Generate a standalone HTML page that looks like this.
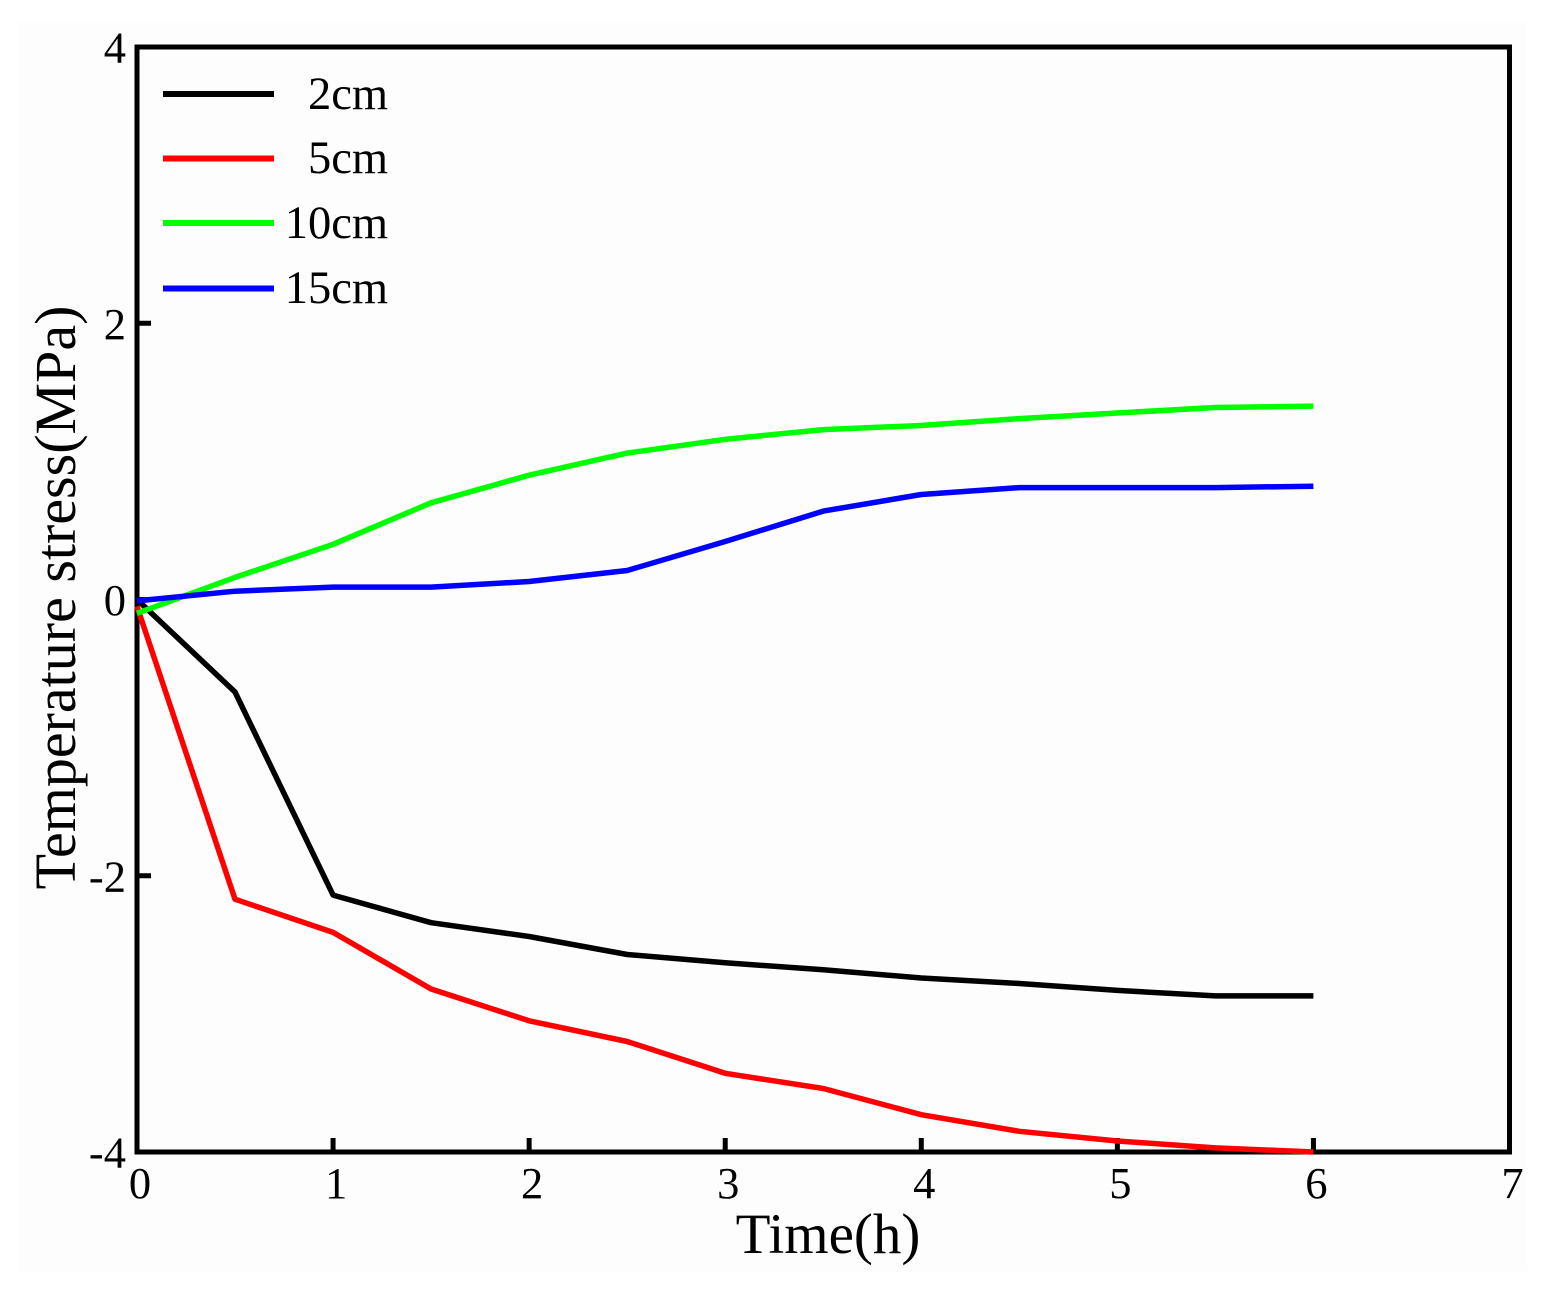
<!DOCTYPE html>
<html>
<head>
<meta charset="utf-8">
<title>Temperature stress over time</title>
<style>
  html, body { margin: 0; padding: 0; background: #fff; width: 1557px; height: 1291px; overflow: hidden; }
  svg { display: block; }
  text { font-family: "Liberation Serif", "Times New Roman", serif; fill: #000; }
</style>
</head>
<body>
<svg id="chart" xmlns="http://www.w3.org/2000/svg" width="1557" height="1291" viewBox="0 0 1557 1291">
  <rect x="18" y="22" width="1509" height="1249" fill="#fdfdfd"/>
  <g id="ticks"></g>
  <g id="tick-labels"></g>
  <rect x="137" y="47" width="1372.5" height="1105" fill="none" stroke="#000" stroke-width="5"/>
  <g id="series"></g>
  <g>
    <g>
      <line x1="163" x2="274" y1="94" y2="94" stroke="#000" stroke-width="6"/>
      <text x="388" y="109" font-size="46.5" text-anchor="end">2cm</text>
    </g>
    <g>
      <line x1="163" x2="274" y1="158.5" y2="158.5" stroke="#ff0000" stroke-width="6"/>
      <text x="388" y="173" font-size="46.5" text-anchor="end">5cm</text>
    </g>
    <g>
      <line x1="163" x2="274" y1="223" y2="223" stroke="#00ff00" stroke-width="6"/>
      <text x="388" y="238" font-size="46.5" text-anchor="end">10cm</text>
    </g>
    <g>
      <line x1="163" x2="274" y1="288.5" y2="288.5" stroke="#0000ff" stroke-width="6"/>
      <text x="388" y="303" font-size="46.5" text-anchor="end">15cm</text>
    </g>
  </g>
  <text x="828" y="1253" font-size="57" text-anchor="middle">Time(h)</text>
  <text x="75" y="597.5" font-size="58" text-anchor="middle" transform="rotate(-90 75 597.5)">Temperature stress(MPa)</text>
</svg>
<script>
const times = [0, 0.5, 1, 1.5, 2, 2.5, 3, 3.5, 4, 4.5, 5, 5.5, 6];
const stress2cm = [0, -0.67, -2.14, -2.34, -2.44, -2.57, -2.63, -2.68, -2.74, -2.78, -2.83, -2.87, -2.87];
const stress5cm = [-0.05, -2.17, -2.41, -2.82, -3.05, -3.2, -3.43, -3.54, -3.73, -3.85, -3.92, -3.97, -4.0];
const stress10cm = [-0.1, 0.16, 0.4, 0.7, 0.9, 1.06, 1.16, 1.23, 1.26, 1.31, 1.35, 1.39, 1.4];
const stress15cm = [-0.01, 0.06, 0.09, 0.09, 0.13, 0.21, 0.42, 0.64, 0.76, 0.81, 0.81, 0.81, 0.82];
const xTicks = [0, 1, 2, 3, 4, 5, 6, 7];
const yTicks = [-4, -2, 0, 2, 4];

const NS = 'http://www.w3.org/2000/svg';
function xPos(v) { return 137 + (v / 7) * 1372.5; }
function yPos(v) { return 599.5 - (v / 8) * 1105; }

const tickGroup = document.getElementById('ticks');
const labelGroup = document.getElementById('tick-labels');
const seriesGroup = document.getElementById('series');

xTicks.forEach(function (t) {
  if (t > 0 && t < 7) {
    const tick = document.createElementNS(NS, 'line');
    
    
    tick.setAttribute('x1', xPos(t));
    tick.setAttribute('x2', xPos(t));
    tick.setAttribute('y1', yPos(-4));
    tick.setAttribute('y2', yPos(-4) - 14);
    tick.setAttribute('stroke', '#000');
    tick.setAttribute('stroke-width', 5);
    tickGroup.appendChild(tick);
  }
  const label = document.createElementNS(NS, 'text');
  
  
  label.setAttribute('x', xPos(t) + 3);
  label.setAttribute('y', 1198);
  label.setAttribute('font-size', 44.5);
  label.setAttribute('text-anchor', 'middle');
  label.textContent = String(t);
  labelGroup.appendChild(label);
});

yTicks.forEach(function (t) {
  if (t > -4 && t < 4) {
    const tick = document.createElementNS(NS, 'line');
    
    
    tick.setAttribute('x1', xPos(0));
    tick.setAttribute('x2', xPos(0) + 14);
    tick.setAttribute('y1', yPos(t));
    tick.setAttribute('y2', yPos(t));
    tick.setAttribute('stroke', '#000');
    tick.setAttribute('stroke-width', 5);
    tickGroup.appendChild(tick);
  }
  const label = document.createElementNS(NS, 'text');
  
  
  label.setAttribute('x', 126);
  label.setAttribute('y', yPos(t) + 15.5);
  label.setAttribute('font-size', 44.5);
  label.setAttribute('text-anchor', 'end');
  label.textContent = String(t);
  labelGroup.appendChild(label);
});

function drawSeries(values, color, name) {
  const line = document.createElementNS(NS, 'polyline');
  
  
  line.setAttribute('points', values.map(function (v, i) {
    return xPos(times[i]).toFixed(1) + ',' + yPos(v).toFixed(1);
  }).join(' '));
  line.setAttribute('fill', 'none');
  line.setAttribute('stroke', color);
  line.setAttribute('stroke-width', 5.5);
  line.setAttribute('stroke-linejoin', 'round');
  seriesGroup.appendChild(line);
}

drawSeries(stress2cm, '#000000', 'series-2cm');
drawSeries(stress5cm, '#ff0000', 'series-5cm');
drawSeries(stress10cm, '#00ff00', 'series-10cm');
drawSeries(stress15cm, '#0000ff', 'series-15cm');
</script>
</body>
</html>
